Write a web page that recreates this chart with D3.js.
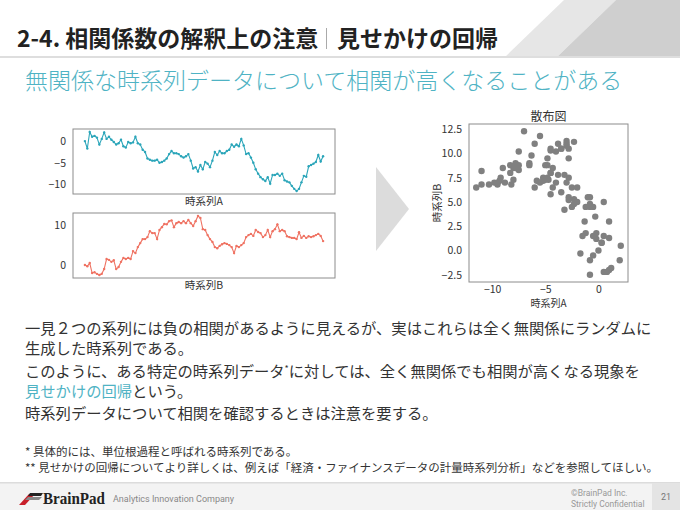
<!DOCTYPE html>
<html>
<head>
<meta charset="utf-8">
<script src="https://cdn.jsdelivr.net/npm/d3@7"></script>
<style>
  body { margin: 0; background: #fff; }
  svg text { font-family: "Noto Sans CJK JP", "Noto Sans", sans-serif; }
</style>
</head>
<body>
<div id="slide"></div>
<script>
// two random walks (100 steps each)
var seriesA = [0, -1.7, 2.1, 1.0, 1.2, 0.8, -0.8, 0.5, 2.0, 0.5,
  1.0, 0.3, -0.2, -0.8, -0.5, 0.3, -1.2, -1.5, -0.2, -0.5,
  -0.3, 1.0, -0.5, -0.8, -2.0, -2.5, -4.0, -4.3, -4.5, -4.5,
  -4.3, -5.0, -4.8, -4.5, -4.0, -3.0, -2.3, -2.8, -2.8, -3.0,
  -3.5, -3.8, -3.5, -3.0, -4.5, -6.3, -6.0, -7.0, -5.5, -6.5,
  -4.8, -5.2, -6.0, -4.5, -2.5, -3.2, -2.3, -2.8, -2.8, -2.3,
  -2.0, -0.8, -1.3, -0.8, -1.2, 0.5, -1.0, -3.0, -2.8, -3.8,
  -5.0, -6.5, -7.5, -8.3, -8.8, -9.2, -8.3, -9.8, -7.8, -7.8,
  -7.5, -8.0, -7.5, -9.0, -9.3, -9.5, -10.3, -11.0, -11.5, -11.0,
  -9.5, -8.0, -8.2, -5.8, -5.5, -5.2, -4.8, -3.2, -4.7, -3.5];

var seriesB = [0, -0.3, 0.5, -2.0, -1.8, -2.2, -2.5, -2.2, -1.0, 1.5,
  1.3, 0.8, 1.2, -1.0, -0.5, 0.8, 1.8, 1.5, 1.8, 1.5,
  3.5, 3.0, 4.5, 5.5, 6.5, 6.5, 7.0, 8.5, 8.0, 8.0,
  6.5, 8.8, 9.5, 10.3, 10.2, 11.0, 11.2, 9.5, 10.5, 10.8,
  10.5, 11.0, 10.5, 11.3, 10.5, 9.8, 11.0, 12.3, 11.8, 9.0,
  8.8, 7.5, 6.5, 5.8, 4.5, 4.2, 4.8, 5.2, 5.5, 5.3,
  5.0, 4.5, 3.0, 4.8, 4.5, 5.0, 5.5, 7.0, 7.5, 7.8,
  7.3, 8.8, 8.3, 8.0, 7.0, 7.5, 8.8, 7.0, 8.5, 9.0,
  10.2, 8.5, 8.8, 8.5, 7.2, 7.0, 6.8, 6.8, 6.5, 8.2,
  6.8, 7.3, 6.8, 7.2, 7.0, 7.2, 7.5, 7.8, 7.3, 6.0];

var ticksA = [0, -5, -10];
var ticksB = [0, 10];
var scatterXTicks = [-10, -5, 0];
var scatterYTicks = [-2.5, 0, 2.5, 5, 7.5, 10, 12.5];

var bodyLines = [
  "一見２つの系列には負の相関があるように見えるが、実はこれらは全く無関係にランダムに",
  "生成した時系列である。"
];
var notes = [
  "* 具体的には、単位根過程と呼ばれる時系列である。",
  "** 見せかけの回帰についてより詳しくは、例えば「経済・ファイナンスデータの計量時系列分析」などを参照してほしい。"
];

var W = 680, H = 510;
var teal = "#4fb3c4";

var svg = d3.select("#slide").append("svg")
  .attr("width", W).attr("height", H);

// ---- header ----
svg.append("polygon")
  .attr("points", "505,57 564,0 616,0 557,57")
  .attr("fill", "#e6e6e6");
svg.append("polygon")
  .attr("points", "557,57 616,0 680,0 680,57")
  .attr("fill", "#cfcfcf");
svg.append("rect").attr("x", 0).attr("y", 56).attr("width", W).attr("height", 2).attr("fill", "#dedede");

svg.append("text")
  .attr("x", 17).attr("y", 47)
  .attr("font-size", 23).attr("font-weight", "bold").attr("fill", "#222")
  .text("2-4. 相関係数の解釈上の注意");
svg.append("rect").attr("x", 326).attr("y", 28).attr("width", 1).attr("height", 21).attr("fill", "#aaa");
svg.append("text")
  .attr("x", 337).attr("y", 47)
  .attr("font-size", 23).attr("font-weight", "bold").attr("fill", "#222")
  .text("見せかけの回帰");

svg.append("text")
  .attr("x", 25).attr("y", 89)
  .attr("font-size", 23).attr("font-weight", 300).attr("fill", teal)
  .text("無関係な時系列データについて相関が高くなることがある");

// ---- line charts ----
var idx = d3.range(seriesA.length);

function padded(ext) {
  var p = (ext[1] - ext[0]) * 0.05;
  return [ext[0] - p, ext[1] + p];
}

function lineChart(values, ticks, color, box, label) {
  var x = d3.scaleLinear().domain(padded([0, values.length - 1])).range([box.x0, box.x1]);
  var y = d3.scaleLinear().domain(padded(d3.extent(values))).range([box.y1, box.y0]);

  var g = svg.append("g");
  g.append("path")
    .datum(idx)
    .attr("fill", "none")
    .attr("stroke", color)
    .attr("stroke-width", 1.1)
    .attr("d", d3.line().x(function(i) { return x(i); }).y(function(i) { return y(values[i]); }));
  g.selectAll("circle").data(idx).enter().append("circle")
    .attr("cx", function(i) { return x(i); })
    .attr("cy", function(i) { return y(values[i]); })
    .attr("r", 1.2)
    .attr("fill", color);

  var yAxis = g.append("g")
    .attr("transform", "translate(" + box.x0 + ",0)")
    .call(d3.axisLeft(y).tickValues(ticks).tickSize(0).tickPadding(7).tickFormat(d3.format("")));
  yAxis.select(".domain").remove();
  yAxis.selectAll("text").attr("font-size", 10.5).attr("fill", "#333")
    .style("font-family", "'Noto Sans CJK JP', sans-serif");

  g.append("rect")
    .attr("x", box.x0).attr("y", box.y0)
    .attr("width", box.x1 - box.x0).attr("height", box.y1 - box.y0)
    .attr("fill", "none").attr("stroke", "#8c8c8c").attr("stroke-width", 1);

  g.append("text")
    .attr("x", (box.x0 + box.x1) / 2).attr("y", box.y1 + 11)
    .attr("text-anchor", "middle").attr("font-size", 10.5).attr("fill", "#333")
    .text(label);
}

lineChart(seriesA, ticksA, "#2aa5b9", { x0: 73, x1: 335, y0: 129, y1: 194 }, "時系列A");
lineChart(seriesB, ticksB, "#ef7262", { x0: 73, x1: 335, y0: 213, y1: 278 }, "時系列B");

// ---- arrow ----
svg.append("polygon")
  .attr("points", "376,167 376,251 409,209")
  .attr("fill", "#dcdcdc");

// ---- scatter ----
var sBox = { x0: 469, x1: 628, y0: 124, y1: 282 };
var sx = d3.scaleLinear().domain(padded(d3.extent(seriesA))).range([sBox.x0, sBox.x1]);
var sy = d3.scaleLinear().domain(padded(d3.extent(seriesB))).range([sBox.y1, sBox.y0]);

var sg = svg.append("g");
sg.selectAll("circle").data(idx).enter().append("circle")
  .attr("cx", function(i) { return sx(seriesA[i]); })
  .attr("cy", function(i) { return sy(seriesB[i]); })
  .attr("r", 3.2)
  .attr("fill", "#808080");

var sxAxis = sg.append("g")
  .attr("transform", "translate(0," + sBox.y1 + ")")
  .call(d3.axisBottom(sx).tickValues(scatterXTicks).tickSize(0).tickPadding(4).tickFormat(d3.format("")));
sxAxis.select(".domain").remove();
sxAxis.selectAll("text").attr("font-size", 10.5).attr("fill", "#333")
  .style("font-family", "'Noto Sans CJK JP', sans-serif");

var syAxis = sg.append("g")
  .attr("transform", "translate(" + sBox.x0 + ",0)")
  .call(d3.axisLeft(sy).tickValues(scatterYTicks).tickSize(0).tickPadding(7).tickFormat(d3.format(".1f")));
syAxis.select(".domain").remove();
syAxis.selectAll("text").attr("font-size", 10.5).attr("fill", "#333")
  .style("font-family", "'Noto Sans CJK JP', sans-serif");

sg.append("rect")
  .attr("x", sBox.x0).attr("y", sBox.y0)
  .attr("width", sBox.x1 - sBox.x0).attr("height", sBox.y1 - sBox.y0)
  .attr("fill", "none").attr("stroke", "#8c8c8c").attr("stroke-width", 1);

sg.append("text")
  .attr("x", (sBox.x0 + sBox.x1) / 2).attr("y", sBox.y0 - 3)
  .attr("text-anchor", "middle").attr("font-size", 12).attr("fill", "#333")
  .text("散布図");
sg.append("text")
  .attr("x", (sBox.x0 + sBox.x1) / 2).attr("y", sBox.y1 + 25)
  .attr("text-anchor", "middle").attr("font-size", 10).attr("fill", "#333")
  .text("時系列A");
sg.append("text")
  .attr("transform", "translate(441," + (sBox.y0 + sBox.y1) / 2 + ")rotate(-90)")
  .attr("text-anchor", "middle").attr("font-size", 10.5).attr("fill", "#333")
  .text("時系列B");

// ---- body text ----
var body = svg.append("g").attr("font-size", 15.3).attr("fill", "#333");
body.append("text").attr("x", 25).attr("y", 334).text(bodyLines[0]);
body.append("text").attr("x", 25).attr("y", 354).text(bodyLines[1]);

var l3 = body.append("text").attr("x", 25).attr("y", 377);
l3.append("tspan").text("このように、ある特定の時系列データ");
l3.append("tspan").attr("font-size", 9).attr("dy", -5).text("*");
l3.append("tspan").attr("dy", 5).text("に対しては、全く無関係でも相関が高くなる現象を");

var l4 = body.append("text").attr("x", 25).attr("y", 397);
l4.append("tspan").attr("fill", teal).text("見せかけの回帰");
l4.append("tspan").text("という。");

body.append("text").attr("x", 25).attr("y", 419).text("時系列データについて相関を確認するときは注意を要する。");

svg.selectAll(".note").data(notes).enter().append("text")
  .attr("class", "note")
  .attr("x", 25)
  .attr("y", function(d, i) { return 456 + i * 16; })
  .attr("font-size", 11.5).attr("fill", "#333")
  .text(function(d) { return d; });

// ---- footer ----
svg.append("rect").attr("x", 0).attr("y", 483).attr("width", W).attr("height", 27).attr("fill", "#f3f3f3");
svg.append("rect").attr("x", 0).attr("y", 482).attr("width", W).attr("height", 1.5).attr("fill", "#dcdcdc");
svg.append("rect").attr("x", 652).attr("y", 483).attr("width", 28).attr("height", 27).attr("fill", "#e4e4e4");

var logo = svg.append("g");
logo.append("polygon").attr("points", "19,505 25,505 35,494 29,494").attr("fill", "#c8202a");
logo.append("polygon").attr("points", "25,500 39,500 42,497 28,497").attr("fill", "#888");
logo.append("polygon").attr("points", "28,496 41,496 43,493 30,493").attr("fill", "#222");
logo.append("text")
  .attr("x", 43).attr("y", 504)
  .attr("font-weight", "bold")
  .attr("font-size", 16).attr("fill", "#222")
  .attr("textLength", 62).attr("lengthAdjust", "spacingAndGlyphs")
  .style("font-family", "'Liberation Serif', serif")
  .text("BrainPad");
logo.append("text")
  .attr("x", 113).attr("y", 502)
  .attr("font-size", 9).attr("fill", "#888")
  .style("font-family", "Roboto, sans-serif")
  .text("Analytics Innovation Company");

svg.append("text").attr("x", 571).attr("y", 496)
  .attr("font-size", 8.5).attr("fill", "#999").style("font-family", "Roboto, sans-serif")
  .text("©BrainPad Inc.");
svg.append("text").attr("x", 571).attr("y", 507)
  .attr("font-size", 8.5).attr("fill", "#999").style("font-family", "Roboto, sans-serif")
  .text("Strictly Confidential");
svg.append("text").attr("x", 666).attr("y", 500)
  .attr("text-anchor", "middle").attr("font-size", 9).attr("fill", "#777")
  .style("font-family", "Roboto, sans-serif")
  .text("21");
</script>
</body>
</html>
